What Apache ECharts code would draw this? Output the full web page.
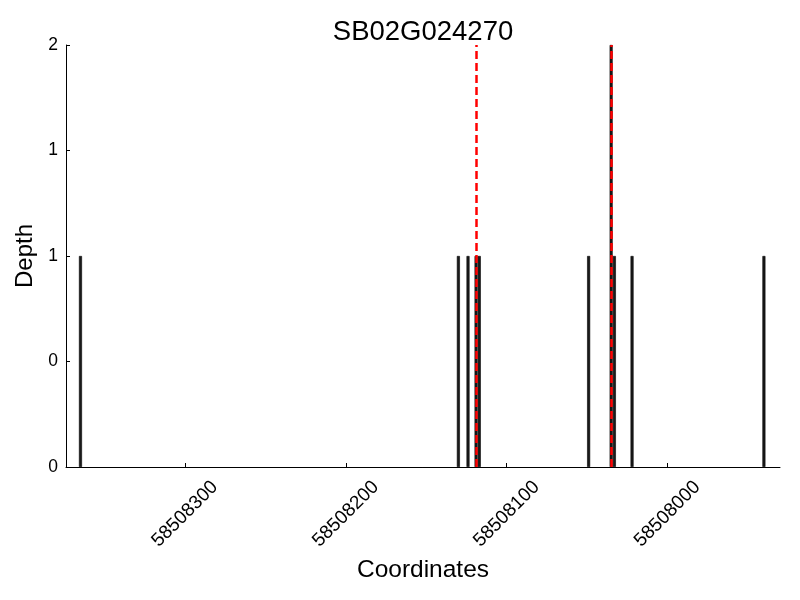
<!DOCTYPE html>
<html>
<head>
<meta charset="utf-8">
<script src="https://cdn.jsdelivr.net/npm/echarts@6/dist/echarts.min.js"></script>
<style>html,body{margin:0;padding:0;background:#fff}#c{width:800px;height:600px}</style>
</head>
<body>
<div id="c"></div>
<script>
const title = "SB02G024270";
const positions = [58508365, 58508130, 58508124, 58508119, 58508117, 58508049, 58508035, 58508033, 58508022, 58507940];
const depths    = [1, 1, 1, 1, 1, 1, 2, 1, 1, 1];
const markerPositions = [58508119, 58508035];
const xTicks = [58508300, 58508200, 58508100, 58508000];
const yTicks = [0, 0.5, 1, 1.5, 2];
const xMin = 58507930, xMax = 58508374;

const font = "'Liberation Sans', Arial, sans-serif";
const chart = echarts.init(document.getElementById('c'));
chart.setOption({
  animation: false,
  backgroundColor: '#fff',
  title: {text: title, left: 418, top: 13, textAlign: 'center',
    textStyle: {fontFamily: font, fontSize: 27.5, fontWeight: 'normal', color: '#000'}},
  grid: {left: 66, right: 20, top: 45, bottom: 133},
  xAxis: {
    type: 'value', min: xMin, max: xMax, inverse: true,
    name: 'Coordinates', nameLocation: 'middle', nameGap: 89,
    nameTextStyle: {fontFamily: font, fontSize: 24.5, color: '#000'},
    axisLine: {lineStyle: {color: '#000', width: 1}},
    axisTick: {inside: true, length: 4, customValues: xTicks, lineStyle: {color: '#000'}},
    axisLabel: {customValues: xTicks, rotate: 45, align: 'center', verticalAlign: 'middle',
      fontFamily: font, fontSize: 19, color: '#000', margin: 47,
      formatter: v => String(v)},
    splitLine: {show: false}
  },
  yAxis: {
    type: 'value', min: 0, max: 2, interval: 0.5,
    name: 'Depth', nameLocation: 'middle', nameGap: 27,
    nameTextStyle: {fontFamily: font, fontSize: 24, color: '#000'},
    axisLine: {show: true, lineStyle: {color: '#000', width: 1}},
    axisTick: {show: true, inside: true, length: 4, lineStyle: {color: '#000'}},
    axisLabel: {fontFamily: font, fontSize: 17.5, color: '#000', margin: 8,
      formatter: v => String(Math.floor(v))},
    splitLine: {show: false}
  },
  series: [{
    type: 'bar',
    barWidth: 3,
    itemStyle: {color: '#1a1a1a', borderColor: '#000', borderWidth: 0.6},
    data: positions.map((p, i) => [p, depths[i]]),
    markLine: {
      silent: true, symbol: 'none', label: {show: false},
      lineStyle: {color: '#ff0000', width: 2.5, type: [8, 4]},
      data: markerPositions.map(p => ({xAxis: p}))
    },
    z: 2
  }]
});
</script>
</body>
</html>
